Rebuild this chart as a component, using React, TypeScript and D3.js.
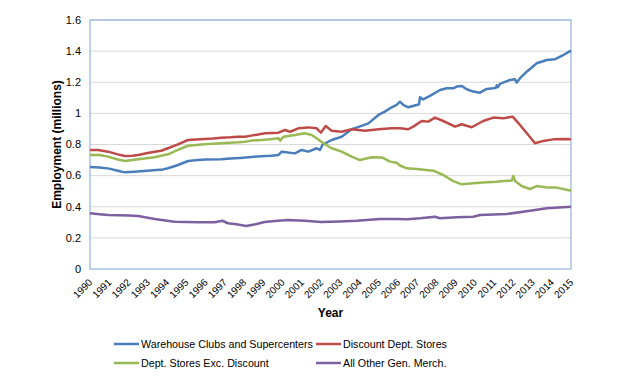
import React from "react";
import * as d3 from "d3";

const yTicks = [0, 0.2, 0.4, 0.6, 0.8, 1, 1.2, 1.4, 1.6];
const yearTicks = d3.range(1990, 2016);

const warehouseYears = [1990.0, 1990.5, 1991.0, 1991.5, 1991.8, 1992.3, 1992.8, 1993.3, 1993.8, 1994.05, 1994.5, 1995.1, 1995.6, 1996.0, 1996.8, 1997.3, 1997.8, 1998.4, 1998.9, 1999.4, 1999.8, 1999.96, 2000.3, 2000.65, 2001.0, 2001.35, 2001.78, 2001.95, 2002.08, 2002.56, 2003.08, 2003.6, 2004.0, 2004.47, 2004.99, 2005.3, 2005.68, 2005.94, 2006.11, 2006.28, 2006.54, 2006.98, 2007.1, 2007.15, 2007.32, 2007.67, 2008.19, 2008.54, 2008.88, 2009.06, 2009.32, 2009.58, 2009.92, 2010.27, 2010.62, 2010.96, 2011.1, 2011.14, 2011.2, 2011.31, 2011.83, 2012.09, 2012.18, 2012.35, 2012.7, 2013.22, 2013.74, 2014.17, 2014.6, 2015.0];
const warehouseValues = [0.655, 0.652, 0.645, 0.63, 0.621, 0.625, 0.63, 0.635, 0.64, 0.647, 0.665, 0.694, 0.7, 0.703, 0.705, 0.71, 0.714, 0.72, 0.725, 0.728, 0.733, 0.754, 0.748, 0.743, 0.765, 0.754, 0.776, 0.765, 0.797, 0.829, 0.85, 0.898, 0.915, 0.936, 0.99, 1.01, 1.039, 1.054, 1.075, 1.054, 1.039, 1.054, 1.058, 1.103, 1.09, 1.112, 1.15, 1.161, 1.161, 1.172, 1.176, 1.155, 1.14, 1.133, 1.157, 1.161, 1.165, 1.18, 1.17, 1.189, 1.215, 1.219, 1.198, 1.226, 1.268, 1.322, 1.343, 1.348, 1.375, 1.403];

const discountYears = [1990.0, 1990.42, 1990.94, 1991.4, 1991.8, 1992.2, 1992.5, 1993.0, 1993.36, 1993.7, 1994.05, 1994.57, 1995.09, 1995.5, 1995.96, 1996.4, 1996.82, 1997.3, 1997.69, 1998.06, 1998.38, 1999.1, 1999.8, 2000.13, 2000.4, 2000.83, 2001.35, 2001.78, 2002.0, 2002.25, 2002.56, 2003.08, 2003.6, 2004.3, 2004.99, 2005.68, 2006.11, 2006.54, 2006.8, 2007.24, 2007.58, 2007.93, 2008.36, 2008.97, 2009.32, 2009.84, 2010.44, 2010.96, 2011.48, 2011.97, 2012.35, 2012.78, 2013.13, 2013.56, 2014.08, 2014.6, 2015.0];
const discountValues = [0.765, 0.765, 0.754, 0.738, 0.726, 0.728, 0.733, 0.745, 0.754, 0.76, 0.776, 0.801, 0.829, 0.832, 0.835, 0.838, 0.844, 0.846, 0.85, 0.85, 0.857, 0.872, 0.876, 0.893, 0.882, 0.904, 0.91, 0.904, 0.876, 0.919, 0.889, 0.882, 0.898, 0.889, 0.898, 0.904, 0.904, 0.898, 0.915, 0.951, 0.947, 0.973, 0.951, 0.915, 0.93, 0.911, 0.951, 0.973, 0.968, 0.979, 0.925, 0.861, 0.808, 0.823, 0.833, 0.835, 0.833];

const deptYears = [1990.0, 1990.5, 1990.94, 1991.4, 1991.8, 1992.5, 1993.36, 1994.05, 1994.57, 1995.09, 1995.96, 1996.82, 1997.69, 1998.06, 1998.38, 1998.92, 1999.5, 1999.8, 1999.88, 2000.05, 2000.65, 2001.17, 2001.52, 2001.78, 2002.13, 2002.56, 2003.08, 2003.6, 2004.03, 2004.64, 2005.2, 2005.6, 2005.94, 2006.11, 2006.46, 2006.98, 2007.84, 2008.36, 2008.88, 2009.32, 2009.92, 2010.62, 2011.14, 2011.48, 2011.92, 2012.0, 2012.09, 2012.43, 2012.87, 2013.22, 2013.74, 2014.26, 2015.0];
const deptValues = [0.733, 0.733, 0.722, 0.705, 0.694, 0.705, 0.718, 0.737, 0.765, 0.792, 0.801, 0.808, 0.814, 0.818, 0.825, 0.829, 0.836, 0.84, 0.825, 0.85, 0.861, 0.872, 0.861, 0.84, 0.808, 0.776, 0.754, 0.722, 0.7, 0.718, 0.716, 0.69, 0.683, 0.665, 0.647, 0.643, 0.632, 0.604, 0.565, 0.544, 0.551, 0.557, 0.561, 0.566, 0.568, 0.598, 0.566, 0.533, 0.514, 0.533, 0.523, 0.523, 0.503];

const otherYears = [1990.0, 1990.5, 1990.94, 1991.5, 1992.0, 1992.5, 1993.36, 1994.4, 1995.6, 1996.48, 1996.88, 1997.17, 1997.6, 1998.12, 1998.6, 1999.08, 1999.6, 2000.29, 2001.16, 2002.02, 2002.47, 2003.0, 2003.86, 2005.07, 2005.94, 2006.5, 2007.15, 2007.93, 2008.19, 2009.06, 2009.92, 2010.27, 2011.66, 2012.87, 2013.74, 2014.6, 2015.0];
const otherValues = [0.358, 0.352, 0.347, 0.345, 0.343, 0.341, 0.321, 0.304, 0.3, 0.3, 0.31, 0.294, 0.288, 0.276, 0.288, 0.302, 0.308, 0.315, 0.31, 0.302, 0.304, 0.306, 0.31, 0.321, 0.321, 0.32, 0.326, 0.336, 0.326, 0.332, 0.336, 0.347, 0.353, 0.375, 0.39, 0.397, 0.4];

const seriesNames = ["Warehouse Clubs and Supercenters", "Discount Dept. Stores", "Dept. Stores Exc. Discount", "All Other Gen. Merch."];
const seriesColors = ["#4A7EBB", "#BE4B48", "#98B954", "#7D60A0"];

const FONT = "'Liberation Sans', Arial, sans-serif";

export default function App() {
  const left = 90, right = 571, top = 20, bottom = 269;
  const x = d3.scaleLinear().domain([1990, 2015]).range([left, right]);
  const y = d3.scaleLinear().domain([0, 1.6]).range([bottom, top]);
  const line = d3.line<[number, number]>().x((d) => x(d[0])).y((d) => y(d[1]));

  const series = [
    d3.zip(warehouseYears, warehouseValues),
    d3.zip(discountYears, discountValues),
    d3.zip(deptYears, deptValues),
    d3.zip(otherYears, otherValues),
  ] as [number, number][][];

  const legendPos = [
    { lx: 114, ly: 344 },
    { lx: 316, ly: 344 },
    { lx: 114, ly: 363 },
    { lx: 316, ly: 363 },
  ];

  return (
    <svg width={630} height={376} style={{ position: "absolute", left: 0, top: 0, background: "#fff" }} fontFamily={FONT}>
      {yTicks.slice(1).map((t) => (
        <line key={"g" + t} x1={left} x2={right} y1={y(t)} y2={y(t)} stroke="#D9D9D9" strokeWidth={1} />
      ))}
      <rect x={left} y={top} width={right - left} height={bottom - top} fill="none" stroke="#7EA3D6" strokeWidth={1} />
      {yTicks.map((t) => (
        <text key={"y" + t} x={81} y={y(t)} dy="0.35em" textAnchor="end" fontSize={11} fill="#000">
          {d3.format("~g")(t)}
        </text>
      ))}
      {yearTicks.map((yr) => (
        <text key={"x" + yr} transform={`translate(${x(yr) + 3},${283}) rotate(-45)`} textAnchor="end" fontSize={10} fill="#000">
          {yr}
        </text>
      ))}
      <text transform={`translate(57,${(top + bottom) / 2}) rotate(-90)`} textAnchor="middle" dy="0.35em" fontSize={12} fontWeight="bold">
        Employment (millions)
      </text>
      <text x={(left + right) / 2} y={317} textAnchor="middle" fontSize={12} fontWeight="bold">
        Year
      </text>
      {series.map((s, i) => (
        <path key={"s" + i} d={line(s) || ""} fill="none" stroke={seriesColors[i]} strokeWidth={2.5} strokeLinejoin="round" />
      ))}
      {seriesNames.map((n, i) => (
        <g key={"l" + i}>
          <line x1={legendPos[i].lx} x2={legendPos[i].lx + 25} y1={legendPos[i].ly} y2={legendPos[i].ly} stroke={seriesColors[i]} strokeWidth={2.5} />
          <text x={legendPos[i].lx + 27} y={legendPos[i].ly} dy="0.35em" fontSize={10.7}>
            {n}
          </text>
        </g>
      ))}
    </svg>
  );
}
